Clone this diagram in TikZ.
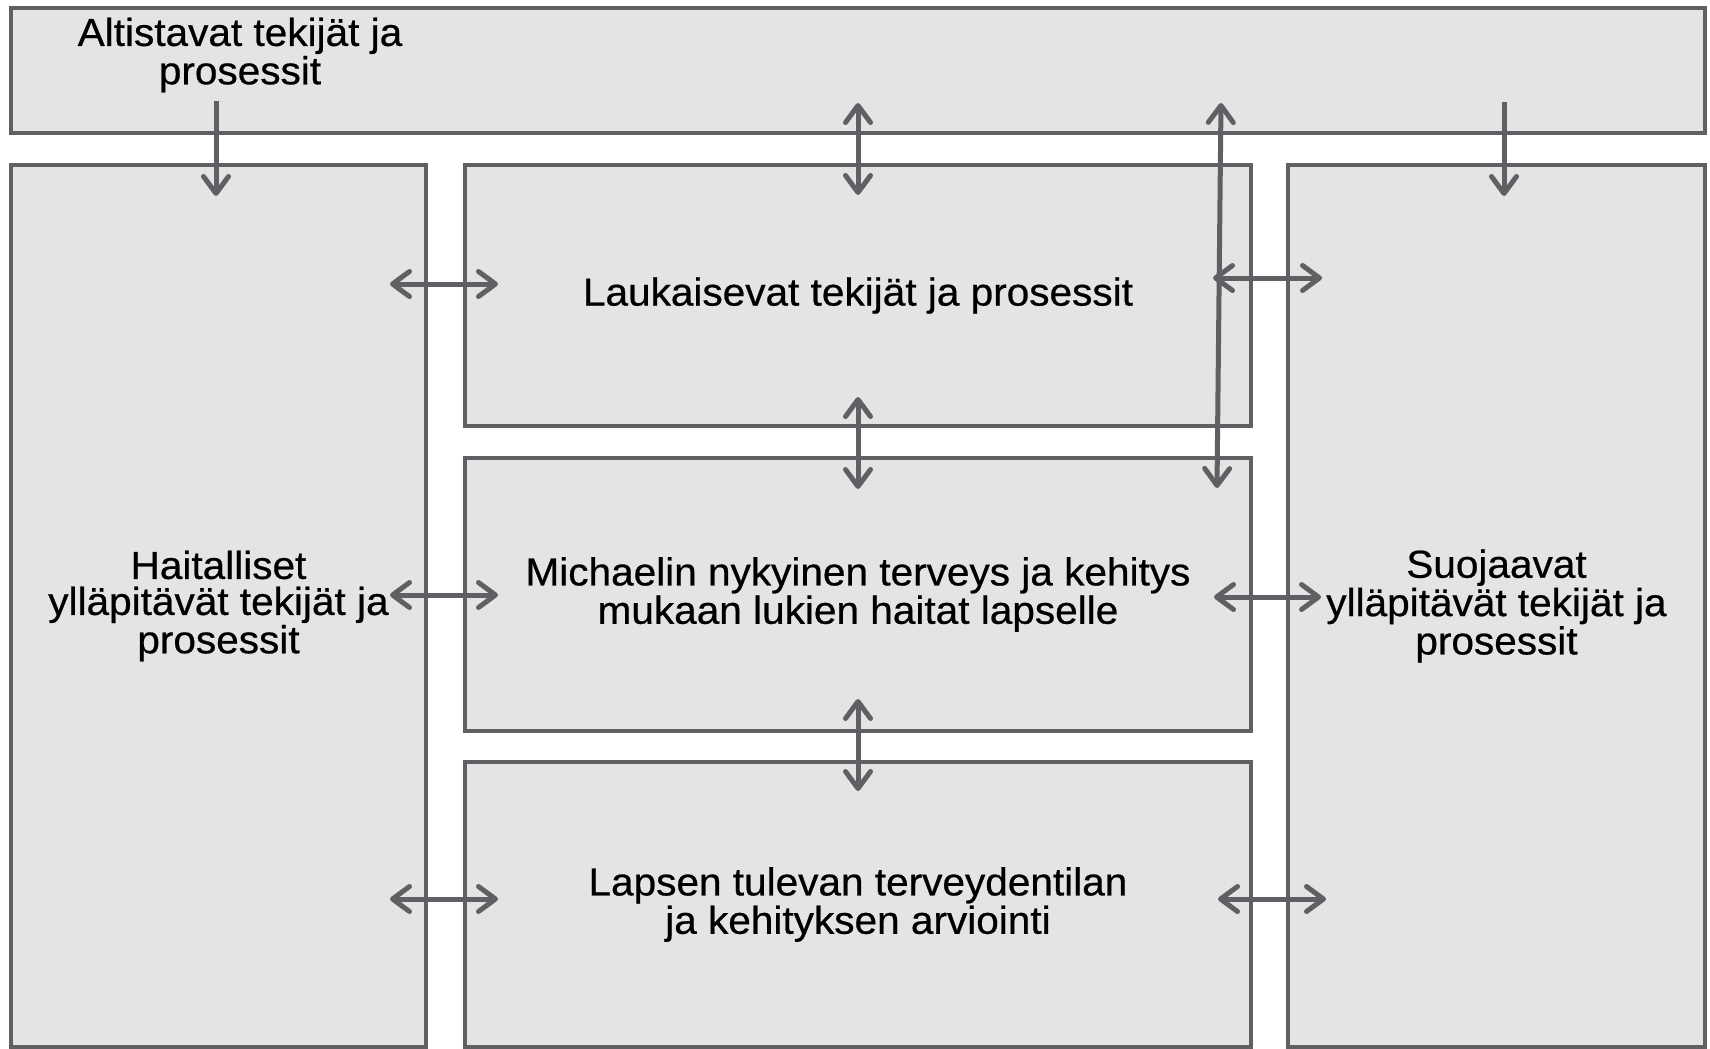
\documentclass[tikz,border=0pt]{standalone}
\usepackage{fontspec}
\setmainfont[FakeStretch=1.04, FakeBold=0.6]{Liberation Sans}
\usetikzlibrary{arrows.meta}
\definecolor{linegray}{HTML}{5F6064}
\definecolor{boxgray}{HTML}{E3E4E3}
\begin{document}
\begin{tikzpicture}[x=0.5pt, y=-0.5pt,
	txt/.style={align=center, inner sep=0pt, font=\fontsize{19.5}{18}\selectfont},
	box/.style={txt, draw=linegray, fill=boxgray, line width=2pt, outer sep=0pt},
	link/.style={draw=linegray, line width=2.5pt},
	>={Straight Barb[round, length=8.5pt, width=12.5pt]}]
	\useasboundingbox (0,0) rectangle (1710,1049);
	% boxes
	\node[box, minimum width=847pt, minimum height=62.5pt] (altbox) at (858,70.5) {};
	\node[txt] (alt) at (240,55) {Altistavat tekijät ja\\prosessit};
	\node[box, minimum width=207.5pt, minimum height=441pt] (haitbox) at (218.5,606) {Haitalliset\\ylläpitävät tekijät ja\\prosessit};
	\node[box, minimum width=208.5pt, minimum height=441pt] (suojbox) at (1496.5,606) {Suojaavat\\ylläpitävät tekijät ja\\prosessit};
	\node[box, minimum width=393pt, minimum height=130.5pt] (laukbox) at (858,295.5) {Laukaisevat tekijät ja prosessit};
	\node[box, minimum width=393pt, minimum height=136.5pt] (nytbox) at (858,594.5) {Michaelin nykyinen terveys ja kehitys\\mukaan lukien haitat lapselle};
	\node[box, minimum width=393pt, minimum height=142.5pt] (tulbox) at (858,904.5) {Lapsen tulevan terveydentilan\\ja kehityksen arviointi};
	% arrow ends
	\coordinate (altS) at (216,101);  \coordinate (altE) at (216,196);
	\coordinate (topS) at (858,103);  \coordinate (topE) at (858,195);
	\coordinate (longS) at (1221,103); \coordinate (longE) at (1217,488);
	\coordinate (suoS) at (1504,102); \coordinate (suoE) at (1504,196);
	\coordinate (m1S) at (858,397);   \coordinate (m1E) at (858,489);
	\coordinate (m2S) at (858,699);   \coordinate (m2E) at (858,791);
	\coordinate (l1S) at (390,284);   \coordinate (l1E) at (498,284);
	\coordinate (l2S) at (390,595);   \coordinate (l2E) at (498,595);
	\coordinate (l3S) at (390,899);   \coordinate (l3E) at (498,899);
	\coordinate (r1S) at (1213,278);  \coordinate (r1E) at (1322,278);
	\coordinate (r2S) at (1214,597);  \coordinate (r2E) at (1321,597);
	\coordinate (r3S) at (1218,899);  \coordinate (r3E) at (1326,899);
	% arrows
	\draw[link, ->] (altS) -- (altE);
	\draw[link, ->] (suoS) -- (suoE);
	\draw[link, <->] (topS) -- (topE);
	\draw[link, <->] (longS) -- (longE);
	\draw[link, <->] (m1S) -- (m1E);
	\draw[link, <->] (m2S) -- (m2E);
	\foreach \k in {1,2,3} {
		\draw[link, <->] (l\k S) -- (l\k E);
		\draw[link, <->] (r\k S) -- (r\k E);
	}
\end{tikzpicture}
\end{document}
